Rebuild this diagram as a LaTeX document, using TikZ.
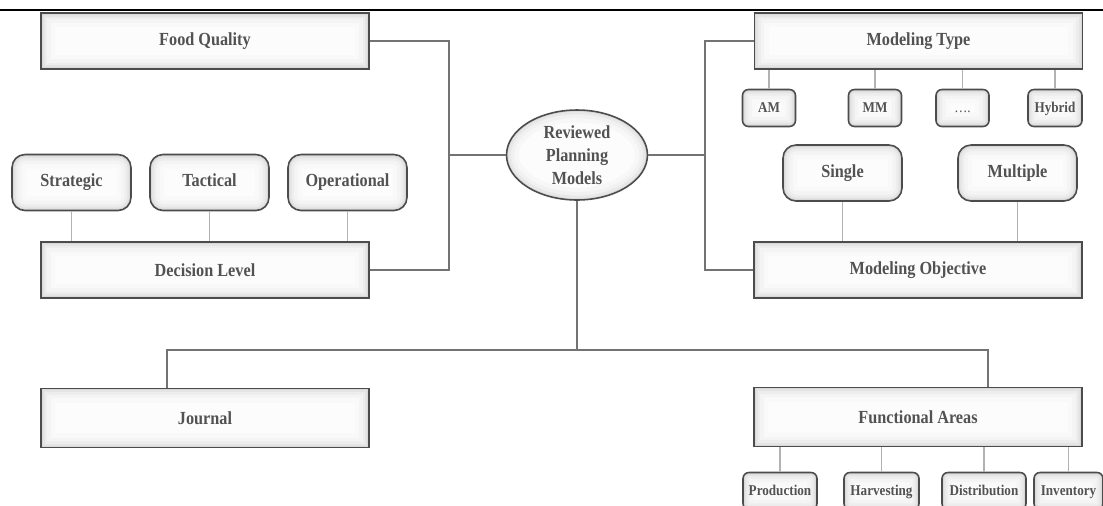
\documentclass[tikz,border=0pt]{standalone}
\usepackage{fontspec}
\setmainfont{Liberation Serif}[FakeStretch=0.88]
\usetikzlibrary{shapes.geometric}

\tikzset{
  glow/.style={path picture={
    \foreach \w/\c in {16pt/5,11pt/9,7pt/14,4pt/21,2pt/30}
      \draw[gray!\c,line width=\w,rounded corners=#1]
        (path picture bounding box.south west) rectangle (path picture bounding box.north east);}},
  bigbox/.style={draw=gray!60!black,line width=0.9pt,fill=gray!2,glow=0pt,
    minimum width=6.56cm,minimum height=1.12cm,font=\bfseries\fontsize{10.5}{13}\selectfont},
  midbox/.style={draw=gray!60!black,line width=0.9pt,fill=gray!2,rounded corners=0.26cm,
    glow=0.26cm,minimum width=2.38cm,minimum height=1.12cm,text height=1.6ex,text depth=0.5ex,
    font=\bfseries\fontsize{10.5}{13}\selectfont},
  tinybox/.style={draw=gray!60!black,line width=0.9pt,fill=gray!2,rounded corners=0.12cm,
    glow=0.12cm,minimum height=0.74cm,inner sep=1pt,text height=1.6ex,text depth=0.5ex,
    font=\bfseries\fontsize{8.5}{10}\selectfont},
  hub/.style={ellipse,draw=gray!60!black,line width=0.9pt,fill=gray!2,
    minimum width=2.82cm,minimum height=1.8cm,inner sep=0pt,align=center,
    path picture={\foreach \w/\c in {14pt/6,9pt/11,5pt/18,2pt/28}
      \draw[gray!\c,line width=\w] (path picture bounding box.center)
        ellipse [x radius=1.41cm,y radius=0.9cm];}},
  branch/.style={draw=black!55,line width=0.8pt},
  twig/.style={draw=gray!60,line width=0.6pt}
}

\begin{document}
\begin{tikzpicture}[x=0.02cm,y=-0.02cm,
every node/.style={font=\bfseries\fontsize{10.5}{13}\selectfont,text=black!68}]
\useasboundingbox (0,0) rectangle (1103,505);
\clip (0,0) rectangle (1103,505);
\draw[line width=1.4pt] (0,10) -- (1103,10);

% centre
\node[hub] (rpm) at (577,155) {Reviewed\\Planning\\Models};

% left side
\node[bigbox] (fq) at (205,41) {Food Quality};
\node[midbox] (st) at (71.5,182.5) {Strategic};
\node[midbox] (ta) at (209.5,182.5) {Tactical};
\node[midbox] (op) at (347.5,182.5) {Operational};
\node[bigbox] (dl) at (205,270) {Decision Level};

% right side
\node[bigbox] (mt) at (918.5,41) {Modeling Type};
\node[tinybox,minimum width=1.06cm] (am) at (769,108) {AM};
\node[tinybox,minimum width=1.06cm,font=\fontsize{8.5}{10}\selectfont] (etc) at (962.5,108) {\dots.};
\node[tinybox,minimum width=1.06cm] (mm) at (875,108) {MM};
\node[tinybox,minimum width=1.08cm] (hy) at (1055,108) {Hybrid};
\node[midbox] (si) at (842.5,173) {Single};
\node[midbox] (mu) at (1017.5,173) {Multiple};
\node[bigbox] (mo) at (918,270) {Modeling Objective};

% bottom
\node[bigbox,minimum height=1.18cm] (jn) at (205,418) {Journal};
\node[bigbox,minimum height=1.18cm] (fa) at (918,417) {Functional Areas};
\node[tinybox,minimum width=1.48cm] (pr) at (780,491) {Production};
\node[tinybox,minimum width=1.5cm] (ha) at (881.5,491) {Harvesting};
\node[tinybox,minimum width=1.68cm] (di) at (984,491) {Distribution};
\node[tinybox,minimum width=1.38cm] (in) at (1068.5,491) {Inventory};

\coordinate (lj) at (449,155);
\coordinate (rj) at (705,155);
\coordinate (bj) at (577,350);
\coordinate (jt) at (167,350);
\coordinate (ft) at (988,350);

\draw[branch] (fq) -| (lj) |- (dl);
\draw[branch] (lj) -- (rpm);
\draw[branch] (mt) -| (rj) |- (mo);
\draw[branch] (rj) -- (rpm);
\draw[branch] (rpm) -- (bj);
\draw[branch] (jn.north -| jt) |- (ft) -- (fa.north -| ft);

\foreach \n in {st,ta,op} \draw[twig] (\n) -- (dl.north -| \n);
\foreach \n in {am,mm,etc,hy} \draw[twig] (\n) -- (mt.south -| \n);
\foreach \n in {si,mu} \draw[twig] (\n) -- (mo.north -| \n);
\foreach \n in {pr,ha,di,in} \draw[twig] (\n) -- (fa.south -| \n);
\end{tikzpicture}
\end{document}
